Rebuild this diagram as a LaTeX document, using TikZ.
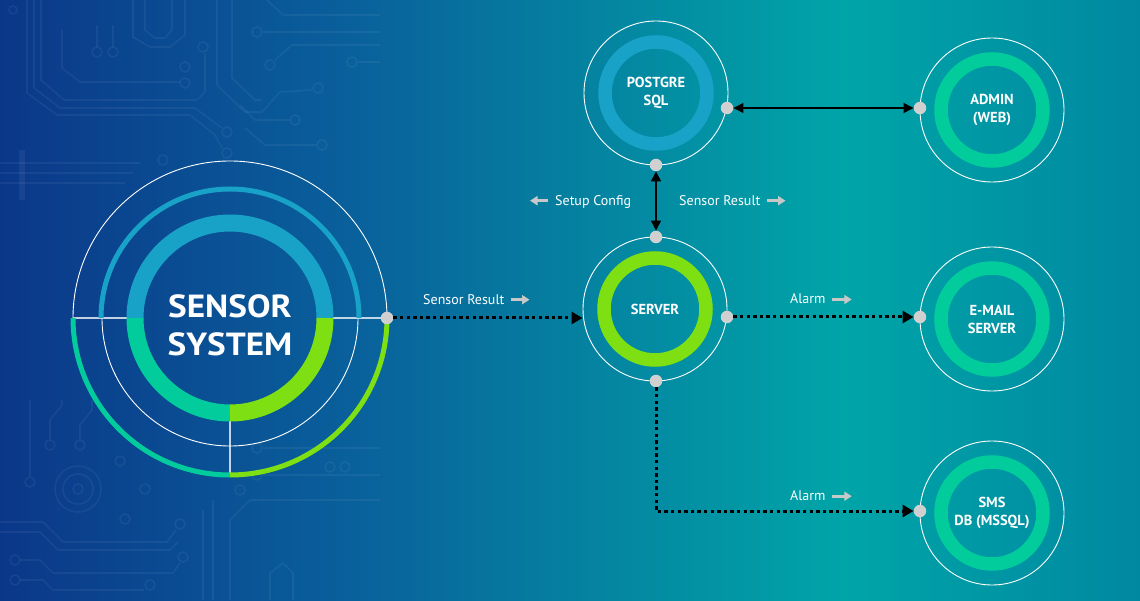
\documentclass[tikz,border=0pt]{standalone}
\usepackage{fontspec}
\setmainfont{PT Sans}
\newfontfamily\widebold[FakeStretch=1.1]{PT Sans Bold}
\usetikzlibrary{arrows.meta,calc}
\definecolor{ringblue}{RGB}{24,162,200}
\definecolor{ringteal}{RGB}{2,204,155}
\definecolor{ringlime}{RGB}{126,224,18}
\definecolor{dotgray}{RGB}{208,208,208}
\definecolor{lightg}{RGB}{200,200,200}
\definecolor{bgA}{RGB}{11,55,137}
\definecolor{bgB}{RGB}{9,98,156}
\definecolor{bgC}{RGB}{5,128,160}
\definecolor{bgD}{RGB}{0,165,168}
\definecolor{bgE}{RGB}{0,136,161}
\pgfdeclarehorizontalshading{bgsh}{100bp}{color(0bp)=(bgA); color(25bp)=(bgA); color(41bp)=(bgB); color(50bp)=(bgC); color(62bp)=(bgD); color(75bp)=(bgE); color(100bp)=(bgE)}
\begin{document}
\begin{tikzpicture}[x=1pt,y=1pt,
  trace/.style={draw=white, opacity=0.055, line width=1.6pt},
  divline/.style={draw=white, opacity=0.75, line width=1.1pt},
  outerc/.style={circle, draw=white, line width=0.9pt, minimum size=144pt, inner sep=0pt,
    text=white, font=\bfseries\fontsize{14.5}{18}\selectfont, align=center},
  sensortext/.style={text=white, font=\widebold\fontsize{32}{38}\selectfont, align=center, inner sep=0pt},
  dotn/.style={circle, fill=dotgray, minimum size=12.5pt, inner sep=0pt},
  solidarr/.style={draw=black, line width=1.2pt, {Triangle[length=10pt,width=10pt]}-{Triangle[length=10pt,width=10pt]}},
  dotarr/.style={draw=black, line width=3pt, dash pattern=on 3.3pt off 3.3pt, -{Triangle[length=11pt,width=12pt]}},
  lbl/.style={text=white, font=\fontsize{14}{16}\selectfont, inner sep=0pt},
  labarr/.style={draw=lightg, line width=3.2pt, -{Triangle[length=7.5pt,width=9pt]}}
]
\useasboundingbox (0,0) rectangle (1140,600);
\shade[shading=bgsh] (0,0) rectangle (1140,600);

% faint circuit traces (pixel coordinates, y downwards)
\begin{scope}[shift={(0,600)}, yscale=-1]
  \draw[trace] (13,10) circle (4pt);
  \draw[trace] (27,0) -- (27,93) -- (57,115) -- (190,115) -- (215,135) -- (222,148);
  \draw[trace] (34,0) -- (34,88) -- (60,108) -- (195,108) -- (222,128);
  \draw[trace] (227,132) circle (5pt);
  \draw[trace] (227,153) circle (5pt);
  \draw[trace] (41,0) -- (41,80) -- (64,100) -- (197,100) -- (205,92) -- (205,53);
  \draw[trace] (203,47) circle (5pt);
  \draw[trace] (62,30) -- (62,68) -- (80,82) -- (180,82);
  \draw[trace] (185,67) circle (5pt);
  \draw[trace] (185,83) circle (5pt);
  \draw[trace] (133,0) -- (133,37) -- (150,47) -- (170,47) -- (185,35) -- (185,0);
  \draw[trace] (145,0) -- (145,30) -- (155,38) -- (165,38) -- (172,30) -- (172,0);
  \draw[trace] (97,25) -- (97,47);  \draw[trace] (97,52) circle (5pt);
  \draw[trace] (113,25) -- (113,47); \draw[trace] (113,52) circle (5pt);
  \draw[trace] (217,0) -- (217,85) -- (245,112) -- (262,112) -- (280,92) -- (312,90);
  \draw[trace] (318,88) circle (5pt);
  \draw[trace] (232,0) -- (232,78) -- (255,100) -- (262,100);
  \draw[trace] (295,120) circle (5pt);
  \draw[trace] (289,120) -- (255,120) -- (240,105);
  \draw[trace] (267,0) -- (283,15) -- (380,15);
  \draw[trace] (257,32) circle (5pt); \draw[trace] (263,32) -- (380,32);
  \draw[trace] (270,65) circle (5pt); \draw[trace] (275,60) -- (292,45) -- (380,45);
  \draw[trace] (352,62) circle (5pt); \draw[trace] (358,62) -- (380,62);
  \draw[trace] (322,145) circle (5pt); \draw[trace] (316,145) -- (265,145) -- (245,128);
  \draw[trace] (0,163) -- (140,163);
  \draw[trace] (0,173) -- (133,173);
  \draw[trace] (0,183) -- (125,183);
  \draw[trace] (163,160) circle (5pt);
  \draw[trace, line width=6pt] (22,150) -- (22,200);
  % bottom left
  \draw[trace] (78,489) circle (23pt);
  \draw[trace] (78,489) circle (15pt);
  \draw[trace] (78,489) circle (5pt);
  \draw[trace] (30,482) circle (5pt); \draw[trace] (30,476) -- (30,400);
  \draw[trace] (50,445) circle (5pt); \draw[trace] (50,439) -- (50,420) -- (62,405) -- (62,400);
  \draw[trace] (80,445) circle (5pt); \draw[trace] (80,439) -- (80,425) -- (92,410) -- (92,400);
  \draw[trace] (120,461) circle (5pt); \draw[trace] (145,489) circle (5pt);
  \draw[trace] (125,519) circle (5pt); \draw[trace] (180,524) circle (5pt);
  \draw[trace] (183,557) circle (5pt); \draw[trace] (15,560) circle (5pt);
  \draw[trace] (15,580) circle (5pt); \draw[trace] (150,585) circle (5pt);
  \draw[trace] (0,522) -- (43,522) -- (63,542) -- (167,542) -- (176,530);
  \draw[trace] (0,532) -- (40,532) -- (58,550) -- (170,550) -- (178,542);
  \draw[trace] (20,560) -- (40,560) -- (53,573) -- (173,573) -- (180,563);
  \draw[trace] (20,580) -- (43,580) -- (53,590) -- (144,590);
  \draw[trace] (203,510) -- (203,600);
  \draw[trace] (213,500) -- (213,600);
  \draw[trace] (270,600) -- (270,573) -- (283,563) -- (293,573) -- (293,600);
  \draw[trace] (240,490) circle (5pt); \draw[trace] (257,448) circle (5pt);
  \draw[trace] (257,475) circle (5pt); \draw[trace] (330,467) circle (5pt);
  \draw[trace] (345,467) circle (5pt);
  \draw[trace] (263,448) -- (380,448);
  \draw[trace] (263,475) -- (380,475);
  \draw[trace] (230,600) -- (230,520) -- (250,500) -- (380,500);
\end{scope}

% ---------------- sensor system ----------------
\coordinate (sc) at (230,282);
\draw[white, line width=0.9pt] (sc) circle (157pt);
\draw[white, line width=0.9pt] (sc) circle (128pt);
\draw[divline] ($(sc)+(-157,0)$) -- ($(sc)+(-103,0)$);
\draw[divline] ($(sc)+(103,0)$) -- ($(sc)+(157,0)$);
\draw[divline] ($(sc)+(0,-103)$) -- ($(sc)+(0,-157)$);
\draw[ringblue, line width=5pt] ($(sc)+(129,0)$) arc[start angle=0, end angle=180, radius=129pt];
\draw[ringteal, line width=5pt] ($(sc)+(-157,0)$) arc[start angle=180, end angle=270, radius=157pt];
\draw[ringlime, line width=5pt] ($(sc)+(0,-157)$) arc[start angle=270, end angle=360, radius=157pt];
\draw[ringblue, line width=17pt] ($(sc)+(95,0)$) arc[start angle=0, end angle=180, radius=95pt];
\draw[ringteal, line width=17pt] ($(sc)+(-95,0)$) arc[start angle=180, end angle=270, radius=95pt];
\draw[ringlime, line width=17pt] ($(sc)+(0,-95)$) arc[start angle=270, end angle=360, radius=95pt];
\node[sensortext] (sensor) at (230,275) {SENSOR\\SYSTEM};
\node[dotn] (sdot) at (387,282) {};

% ---------------- nodes ----------------
\node[outerc] (pg) at (656,507) {POSTGRE\\SQL};
\draw[ringblue, line width=13.5pt] (pg.center) circle (51pt);
\node[outerc] (adm) at (992,490) {ADMIN\\(WEB)};
\draw[ringteal, line width=13.5pt] (adm.center) circle (51pt);
\node[outerc] (srv) at (655,291) {SERVER};
\draw[ringlime, line width=13.5pt] (srv.center) circle (51pt);
\node[outerc] (eml) at (992,281) {E-MAIL\\SERVER};
\draw[ringteal, line width=13.5pt] (eml.center) circle (51pt);
\node[outerc] (sms) at (992,87) {SMS\\DB (MSSQL)};
\draw[ringteal, line width=13.5pt] (sms.center) circle (51pt);

\node[dotn] (pgR) at (727,492) {};
\node[dotn] (pgB) at (656,435) {};
\node[dotn] (admL) at (920,492) {};
\node[dotn] (srvT) at (656,363) {};
\node[dotn] (srvB) at (656,219) {};
\node[dotn] (srvR) at (727,283) {};
\node[dotn] (emlL) at (920,283) {};
\node[dotn] (smsL) at (920,89) {};

% ---------------- connectors ----------------
\draw[solidarr] (pgR.east) -- (admL.west);
\draw[solidarr] (pgB.south) -- (srvT.north);
\draw[dotarr] (sdot.east) -- (sdot.east -| srv.west);
\draw[dotarr] (srvR.east) -- (emlL.west);
\draw[dotarr] (srvB.south) |- (smsL.west);

% ---------------- labels ----------------
\node[lbl, anchor=base west] (l1) at (555,394) {Setup Config};
\draw[labarr] ($(l1.base west)+(-7,5.3)$) -- ++(-18,0);
\node[lbl, anchor=base west] (l2) at (679,394) {Sensor Result};
\draw[labarr] ($(l2.base east)+(6,5.3)$) -- ++(19,0);
\node[lbl, anchor=base west] (l3) at (423,295) {Sensor Result};
\draw[labarr] ($(l3.base east)+(6,5.3)$) -- ++(19,0);
\node[lbl, anchor=base west] (l4) at (790,296) {Alarm};
\draw[labarr] ($(l4.base east)+(6,4.5)$) -- ++(20,0);
\node[lbl, anchor=base west] (l5) at (790,99.3) {Alarm};
\draw[labarr] ($(l5.base east)+(6,4.5)$) -- ++(20,0);
\end{tikzpicture}
\end{document}
